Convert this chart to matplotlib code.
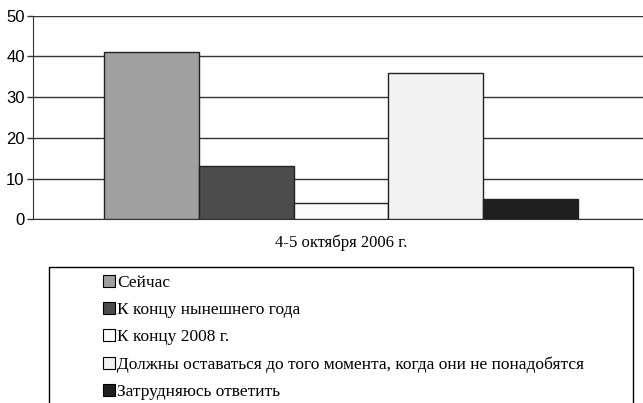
import matplotlib.pyplot as plt
from matplotlib.patches import Rectangle
from matplotlib.lines import Line2D

labels = ["Сейчас",
          "К концу нынешнего года",
          "К концу 2008 г.",
          "Должны оставаться до того момента, когда они не понадобятся",
          "Затрудняюсь ответить"]
values = [41, 13, 4, 36, 5]
colors = ["#a0a0a0", "#4c4c4c", "#fcfcfc", "#f2f2f2", "#1e1e1e"]
group_label = "4-5 октября 2006 г."
yticks = [0, 10, 20, 30, 40, 50]

W, H = 643, 403
fig = plt.figure(figsize=(W / 100, H / 100), dpi=100)
ax = fig.add_axes([33 / W, (H - 219.3) / H, 616 / W, 203.6 / H])

# столбцы одной группы, вплотную друг к другу
for i, (v, c) in enumerate(zip(values, colors)):
    ax.bar(i, v, width=1.0, color=c, edgecolor="#222222", linewidth=1.0, zorder=3)

ax.set_xlim(-1.247, 5.247)
ax.set_ylim(0, 50)
ax.set_yticks(yticks)
ax.set_yticklabels([str(t) for t in yticks], family="Liberation Sans", fontsize=12)
ax.yaxis.grid(True, color="#333333", linewidth=1.0, zorder=0)
ax.set_xticks([])
ax.set_xlabel(group_label, family="Liberation Serif", fontsize=12, labelpad=11)

for side in ["top", "right"]:
    ax.spines[side].set_visible(False)
ax.spines["left"].set_color("#333333")
ax.spines["bottom"].set_color("#333333")
ax.tick_params(axis="y", length=4, width=1, color="#333333", pad=2)

# рамка легенды уходит за нижний край
fig.patches.append(Rectangle((49 / W, -0.05), 584 / W, (H - 266.5) / H + 0.05,
                             transform=fig.transFigure, fill=False,
                             edgecolor="black", linewidth=1.0))

handles = [Line2D([], [], marker="s", linestyle="none", markersize=8,
                  markerfacecolor=c, markeredgecolor="black", markeredgewidth=0.8)
           for c in colors]
leg = fig.legend(handles, labels, loc="upper left",
                 bbox_to_anchor=(103 / W, 1 - 275 / H),
                 frameon=False, handlelength=0.7, handletextpad=0.1,
                 labelspacing=0.63, borderpad=0, borderaxespad=0,
                 prop={"family": "Liberation Serif", "size": 12.5})

fig.savefig("out.png", dpi=100)
